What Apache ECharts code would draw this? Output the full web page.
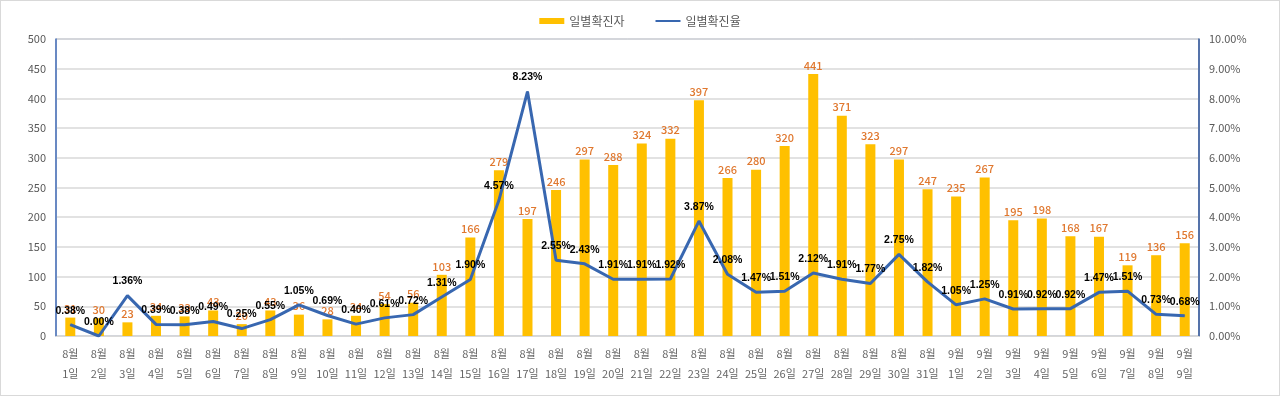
<!DOCTYPE html>
<html>
<head>
<meta charset="utf-8">
<script src="https://cdn.jsdelivr.net/npm/echarts@6/dist/echarts.min.js"></script>
<style>
html,body{margin:0;padding:0;background:#fff;}
#c{width:1280px;height:396px;box-sizing:border-box;border:1px solid #d9d9d9;}
</style>
</head>
<body>
<div id="c"></div>
<script>
const categories = ['8월\n1일','8월\n2일','8월\n3일','8월\n4일','8월\n5일','8월\n6일','8월\n7일','8월\n8일','8월\n9일','8월\n10일',
'8월\n11일','8월\n12일','8월\n13일','8월\n14일','8월\n15일','8월\n16일','8월\n17일','8월\n18일','8월\n19일','8월\n20일',
'8월\n21일','8월\n22일','8월\n23일','8월\n24일','8월\n25일','8월\n26일','8월\n27일','8월\n28일','8월\n29일','8월\n30일',
'8월\n31일','9월\n1일','9월\n2일','9월\n3일','9월\n4일','9월\n5일','9월\n6일','9월\n7일','9월\n8일','9월\n9일'];
const dailyCases = [31,30,23,34,33,43,20,43,36,28,34,54,56,103,166,279,197,246,297,288,324,332,397,266,280,320,441,371,323,297,247,235,267,195,198,168,167,119,136,156];
const dailyRate = [0.38,0.00,1.36,0.39,0.38,0.49,0.25,0.55,1.05,0.69,0.40,0.61,0.72,1.31,1.90,4.57,8.23,2.55,2.43,1.91,1.91,1.92,3.87,2.08,1.47,1.51,2.12,1.91,1.77,2.75,1.82,1.05,1.25,0.91,0.92,0.92,1.47,1.51,0.73,0.68];
const seriesNames = ['일별확진자','일별확진율'];

const FONT = '"Noto Sans CJK KR", "Noto Sans", sans-serif';
const chart = echarts.init(document.getElementById('c'));
chart.setOption({
  animation:false,
  textStyle:{fontFamily:FONT},
  legend:{
    top:9, left:'center', itemGap:30, itemWidth:25, itemHeight:6,
    textStyle:{color:'#595959',fontSize:12,fontFamily:FONT},
    data:[{name:seriesNames[0],icon:'rect'},
          {name:seriesNames[1],itemStyle:{color:'rgba(0,0,0,0)',borderWidth:0,opacity:0}}]
  },
  grid:{left:55,right:80,top:38,bottom:59,show:true,borderColor:'#8EA4C8',borderWidth:1},
  xAxis:{
    type:'category', data:categories,
    axisLine:{lineStyle:{color:'#d9d9d9'}},
    axisTick:{show:false},
    axisLabel:{color:'#666',fontSize:11,lineHeight:20,margin:8,interval:0,fontFamily:FONT}
  },
  yAxis:[
    {type:'value',min:0,max:500,interval:50,
     axisLine:{show:true,lineStyle:{color:'#4A72B8',width:1.5}},
     axisLabel:{color:'#595959',fontSize:11,margin:10},
     splitLine:{lineStyle:{color:'#d9d9d9',width:1.5}}},
    {type:'value',min:0,max:10,interval:1,
     axisLine:{show:true,lineStyle:{color:'#2F5597',width:1.5}},
     axisLabel:{color:'#595959',fontSize:11,margin:10,formatter:v=>v.toFixed(2)+'%'},
     splitLine:{show:false}}
  ],
  series:[
    {name:seriesNames[0],type:'bar',data:dailyCases,barWidth:10,
     itemStyle:{color:'#FFC000'},
     label:{show:true,position:'top',color:'#E0782F',fontSize:11,fontWeight:500,distance:3}},
    {name:seriesNames[1],type:'line',yAxisIndex:1,data:dailyRate,
     symbol:'circle',symbolSize:1,showSymbol:true,
     lineStyle:{color:'#3867B0',width:3},itemStyle:{color:'#3867B0'},
     label:{show:true,position:'top',color:'#000',fontSize:10.5,fontWeight:'bold',distance:8,
       fontFamily:'"Liberation Sans", Arial, sans-serif',
       formatter:p=>p.value.toFixed(2)+'%'},
     labelLayout:{hideOverlap:false},
     z:3}
  ]
});
</script>
</body>
</html>
